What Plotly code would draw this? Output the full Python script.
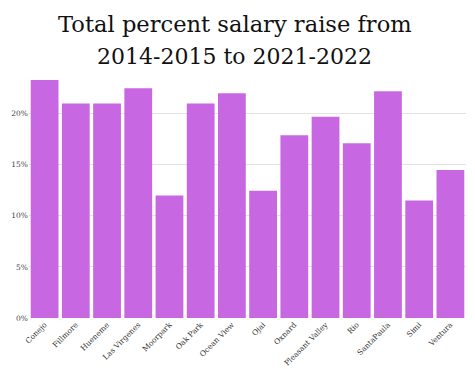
import plotly.graph_objects as go

districts = ["Conejo", "Fillmore", "Hueneme", "Las Virgenes", "Moorpark", "Oak Park",
             "Ocean View", "Ojai", "Oxnard", "Pleasant Valley", "Rio", "SantaPaula",
             "Simi", "Ventura"]
raise_pct = [23.3, 21.0, 21.0, 22.5, 12.0, 21.0, 22.0, 12.45, 17.9, 19.7, 17.1, 22.2, 11.5, 14.5]
y_ticks = [0, 5, 10, 15, 20]
y_tick_labels = ["0%", "5%", "10%", "15%", "20%"]
title_lines = ["Total percent salary raise from", "2014-2015 to 2021-2022"]

fig = go.Figure(go.Bar(x=districts, y=raise_pct, marker=dict(color="#C867E2", line=dict(width=0))))

for i, line in enumerate(title_lines):
    fig.add_annotation(text=line, xref="paper", yref="paper", x=0.5, xanchor="center",
                       xshift=-13, y=1.0, yanchor="middle", yshift=[56, 24][i], showarrow=False,
                       font=dict(family="DejaVu Serif", size=[22.6, 22][i], color="#111111"))

fig.update_layout(
    width=475, height=369,
    margin=dict(l=29, r=9, t=80, b=51),
    paper_bgcolor="white", plot_bgcolor="white",
    bargap=0.11,
    showlegend=False,
)
fig.update_xaxes(tickangle=-45, tickfont=dict(family="DejaVu Serif", size=7.5, color="#333333"),
                 showgrid=False, ticks="", showline=False, automargin=False)
fig.update_yaxes(range=[0, 23.3], tickvals=y_ticks, ticktext=y_tick_labels,
                 tickfont=dict(family="DejaVu Serif", size=7.5, color="#444444"),
                 showgrid=True, gridcolor="#e3e3e3", gridwidth=1, zeroline=False, ticks="",
                 automargin=False)

fig.write_html("out.html", config={"displayModeBar": False},
               post_script="document.body.style.margin='0';")
